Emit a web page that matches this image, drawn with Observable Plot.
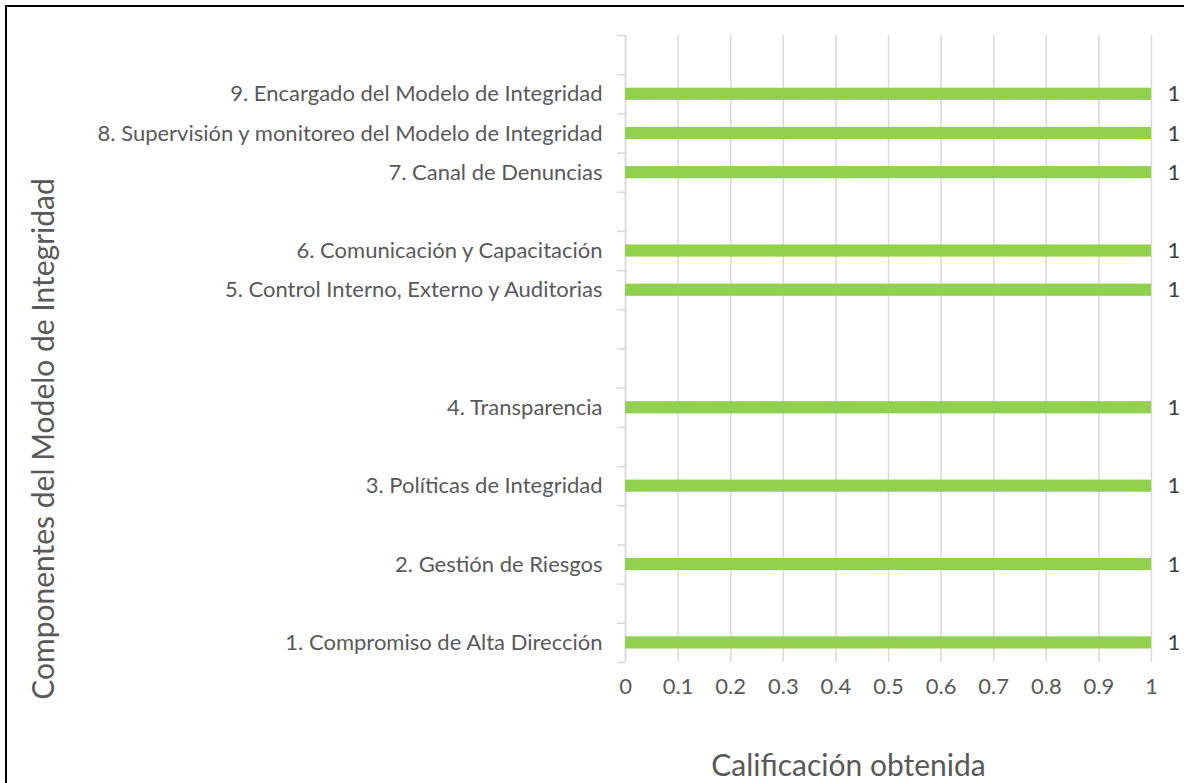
<!DOCTYPE html>
<html>
<head>
<meta charset="utf-8">
<script src="https://cdn.jsdelivr.net/npm/d3@7"></script>
<script src="https://cdn.jsdelivr.net/npm/@observablehq/plot@0.6"></script>
<style>
  html, body { margin: 0; padding: 0; background: #fff; overflow: hidden; }
  #wrap { position: relative; width: 1184px; height: 783px; }
  #frame { position: absolute; left: 5px; top: 5px; width: 1200px; height: 800px; border: 2px solid #000; box-sizing: border-box; pointer-events: none; }
  #chart { position: absolute; left: 0; top: 0; }
</style>
</head>
<body>
<div id="wrap">
  <div id="chart"></div>
  <div id="frame"></div>
</div>
<script>
// Category axis rows, bottom to top (blank rows as in the source sheet)
const categories = [
  "1. Compromiso de Alta Dirección",
  "",
  "2. Gestión de Riesgos",
  "",
  "3. Políticas de Integridad",
  "",
  "4. Transparencia",
  "",
  "",
  "5. Control Interno, Externo y Auditorias",
  "6. Comunicación y Capacitación",
  "",
  "7. Canal de Denuncias",
  "8. Supervisión y monitoreo del Modelo de Integridad",
  "9. Encargado del Modelo de Integridad",
  ""
];
const values = [1, null, 1, null, 1, null, 1, null, null, 1, 1, null, 1, 1, 1, null];
const xTicks = [0, 0.1, 0.2, 0.3, 0.4, 0.5, 0.6, 0.7, 0.8, 0.9, 1];
const yTitle = "Componentes del Modelo de Integridad";
const xTitle = "Calificación obtenida";

const table = categories.map((c, i) => ({c, i, v: values[i]})).filter(d => d.v != null);
const boundaries = d3.range(0, categories.length + 1);
const centers = categories.map((c, i) => i + 0.5).filter((v, i) => categories[i] !== "");

const grey = "#595959";
const gridCol = "#d9d9d9";

const chart = Plot.plot({
  width: 1184,
  height: 783,
  marginLeft: 625,
  marginRight: 33,
  marginTop: 35,
  marginBottom: 121,
  style: {fontFamily: "Lato, 'Open Sans', sans-serif", background: "transparent", overflow: "visible"},
  x: {domain: [0, 1], label: null},
  y: {domain: [0, categories.length], label: null},
  marks: [
    Plot.gridX(xTicks, {stroke: gridCol, strokeOpacity: 1, strokeWidth: 1.5}),
    Plot.ruleX([0], {stroke: gridCol, strokeWidth: 1.5}),
    Plot.axisY(boundaries, {tickSize: 8, tickFormat: () => "", stroke: gridCol, strokeWidth: 1.5, label: null}),
    Plot.axisY(centers, {tickSize: 0, tickPadding: 23, tickFormat: v => categories[Math.floor(v)], fontSize: 22, fill: grey, label: null}),
    Plot.axisX(xTicks, {tickSize: 0, tickPadding: 16, tickFormat: d => String(d), fontSize: 22, fill: grey, label: null}),
    Plot.rectX(table, {x: "v", y1: "i", y2: d => d.i + 1, insetTop: 13.5, insetBottom: 13.5, fill: "#92d050"}),
    Plot.text(table, {x: "v", y: d => d.i + 0.5, text: d => String(d.v), textAnchor: "start", dx: 16, fontSize: 22, fill: "#404040"}),
    Plot.text([yTitle], {text: d => d, frameAnchor: "left", textAnchor: "middle", lineAnchor: "middle", rotate: -90, dx: -581, dy: 90, fontSize: 30, fill: grey}),
    Plot.text([xTitle], {text: d => d, frameAnchor: "bottom", textAnchor: "middle", lineAnchor: "middle", dx: -40, dy: 104, fontSize: 30, fill: grey})
  ]
});
document.getElementById("chart").appendChild(chart);
</script>
</body>
</html>
